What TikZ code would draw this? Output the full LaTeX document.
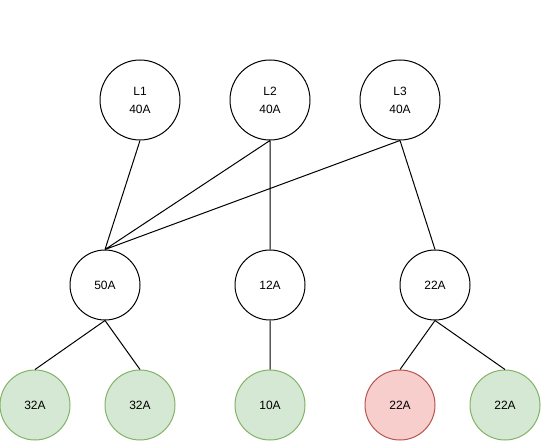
\documentclass[tikz,border=0pt]{standalone}
\usepackage{fontspec}
\setmainfont{Liberation Sans}
\usetikzlibrary{positioning}
\definecolor{okfill}{HTML}{D5E8D4}
\definecolor{okdraw}{HTML}{82B366}
\definecolor{overfill}{HTML}{F8CECC}
\definecolor{overdraw}{HTML}{B85450}
\tikzset{
    x=0.75pt, y=-0.75pt, % one unit is one pixel
    every node/.style={font=\fontsize{9}{13.5}\selectfont, align=center},
    line node/.style={circle, draw=black, line width=0.75pt, fill=white, inner sep=0pt, minimum size=60pt},
    load/.style={circle, draw=black, line width=0.75pt, fill=white, inner sep=0pt, minimum size=52.5pt},
    ok/.style={load, draw=okdraw, fill=okfill}, % load within limit
    over/.style={load, draw=overdraw, fill=overfill}, % load over limit
    wire/.style={line width=0.75pt}, % makes the edges thin
}
\begin{document}
\begin{tikzpicture}
    \useasboundingbox (0,0) rectangle (541,441);
    % lines
    \node[line node] (L1) at (140,100) {L1\\40A};
    \node[line node] (L2) at (270,100) {L2\\40A};
    \node[line node] (L3) at (400,100) {L3\\40A};
    % breakers
    \node[load] (b50) at (105,285) {50A};
    \node[load] (b12) at (270,285) {12A};
    \node[load] (b22) at (435,285) {22A};
    % loads
    \node[ok] (c1) at (35,405) {32A};
    \node[ok] (c2) at (140,405) {32A};
    \node[ok] (c3) at (270,405) {10A};
    \node[over] (c4) at (400,405) {22A};
    \node[ok] (c5) at (505,405) {22A};
    \draw[wire] (L1.south) -- (b50.north)
                (L2.south) -- (b50.north)
                (L3.south) -- (b50.north)
                (L2.south) -- (b12.north)
                (L3.south) -- (b22.north)
                (b50.south) -- (c1.north)
                (b50.south) -- (c2.north)
                (b12.south) -- (c3.north)
                (b22.south) -- (c4.north)
                (b22.south) -- (c5.north);
\end{tikzpicture}
\end{document}
